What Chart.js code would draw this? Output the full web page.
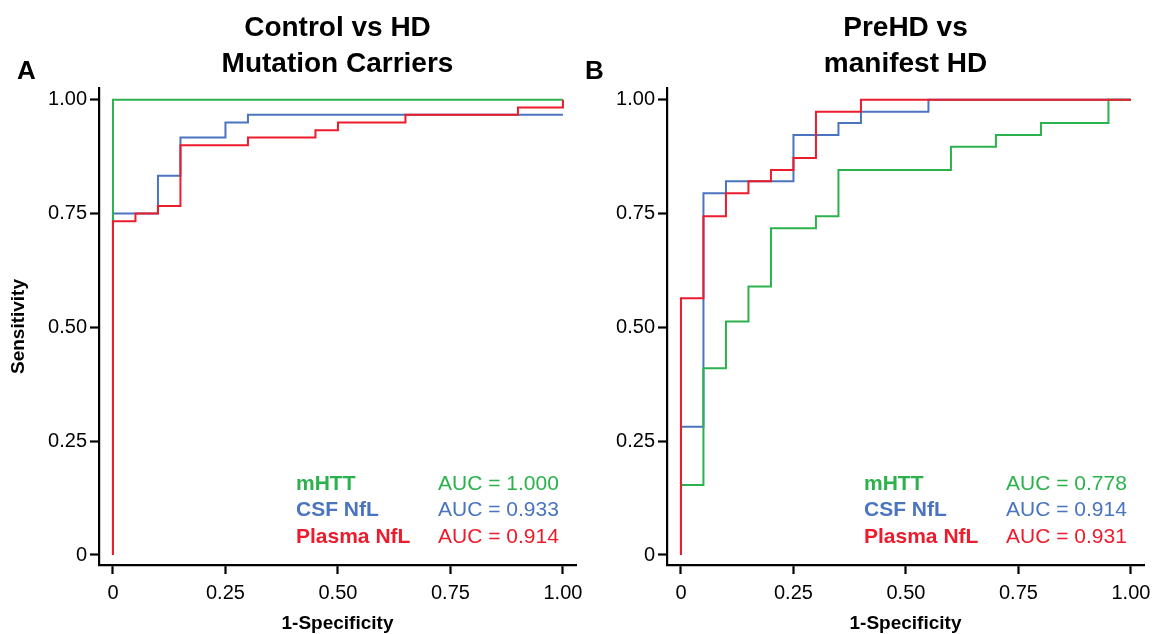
<!DOCTYPE html>
<html>
<head>
<meta charset="utf-8">
<script src="https://cdn.jsdelivr.net/npm/chart.js@4.4.1/dist/chart.umd.min.js"></script>
<style>
  html, body { margin: 0; padding: 0; background: #fff; }
  #wrap { position: relative; width: 1152px; height: 634px; overflow: hidden; }
  .panel { position: absolute; top: 0; width: 584px; height: 634px; }
</style>
</head>
<body>
<div id="wrap">
  <div class="panel" style="left:0"><canvas id="rocA" width="584" height="634"></canvas></div>
  <div class="panel" style="left:568px"><canvas id="rocB" width="584" height="634"></canvas></div>
</div>
<script>
const markers = ['mHTT', 'CSF NfL', 'Plasma NfL'];
const colors = ['#2bb24c', '#4a74bf', '#ec1c2c'];

const tickValues = [0, 0.25, 0.5, 0.75, 1];
const tickLabels = ['0', '0.25', '0.50', '0.75', '1.00'];

// A: control vs HD mutation carriers (ROC points, 1-specificity / sensitivity)
const fprA_mhtt = [0, 0, 1];
const tprA_mhtt = [0, 1, 1];
const fprA_csf = [0, 0, 0.10, 0.10, 0.15, 0.15, 0.25, 0.25, 0.30, 0.30, 1];
const tprA_csf = [0, 0.75, 0.75, 0.833, 0.833, 0.917, 0.917, 0.95, 0.95, 0.967, 0.967];
const fprA_plasma = [0, 0, 0.05, 0.05, 0.10, 0.10, 0.15, 0.15, 0.30, 0.30, 0.45, 0.45, 0.50, 0.50, 0.65, 0.65, 0.90, 0.90, 1, 1];
const tprA_plasma = [0, 0.733, 0.733, 0.75, 0.75, 0.767, 0.767, 0.90, 0.90, 0.917, 0.917, 0.933, 0.933, 0.95, 0.95, 0.967, 0.967, 0.983, 0.983, 1];
const aucA = ['1.000', '0.933', '0.914'];

// B: preHD vs manifest HD
const fprB_mhtt = [0, 0, 0.05, 0.05, 0.10, 0.10, 0.15, 0.15, 0.20, 0.20, 0.30, 0.30, 0.35, 0.35, 0.60, 0.60, 0.70, 0.70, 0.80, 0.80, 0.95, 0.95, 1];
const tprB_mhtt = [0, 0.154, 0.154, 0.410, 0.410, 0.513, 0.513, 0.590, 0.590, 0.718, 0.718, 0.744, 0.744, 0.846, 0.846, 0.897, 0.897, 0.923, 0.923, 0.949, 0.949, 1, 1];
const fprB_csf = [0, 0, 0.05, 0.05, 0.10, 0.10, 0.25, 0.25, 0.35, 0.35, 0.40, 0.40, 0.55, 0.55, 1];
const tprB_csf = [0, 0.282, 0.282, 0.795, 0.795, 0.821, 0.821, 0.923, 0.923, 0.949, 0.949, 0.974, 0.974, 1, 1];
const fprB_plasma = [0, 0, 0.05, 0.05, 0.10, 0.10, 0.15, 0.15, 0.20, 0.20, 0.25, 0.25, 0.30, 0.30, 0.40, 0.40, 1];
const tprB_plasma = [0, 0.564, 0.564, 0.744, 0.744, 0.795, 0.795, 0.821, 0.821, 0.846, 0.846, 0.872, 0.872, 0.974, 0.974, 1, 1];
const aucB = ['0.778', '0.914', '0.931'];

const FONT = '"Liberation Sans", Arial, Helvetica, sans-serif';
// plasma drawn on top, then mHTT, CSF underneath
const drawOrder = [1, 2, 0];

// titles, panel letter and the AUC legend
const panelText = {
    id: 'panelText',
    afterDraw(chart, args, opts) {
        const { ctx, chartArea } = chart;
        ctx.save();
        ctx.fillStyle = '#000';
        ctx.textBaseline = 'middle';
        ctx.textAlign = 'center';
        ctx.font = `bold 28px ${FONT}`;
        const cx = (chartArea.left + chartArea.right) / 2;
        opts.title.forEach((line, i) => ctx.fillText(line, cx, 28 + i * 36));

        ctx.textAlign = 'left';
        ctx.font = `bold 26px ${FONT}`;
        ctx.fillText(opts.letter, 17, 72);

        chart.data.datasets.forEach((ds, i) => {
            const y = chartArea.bottom - 81 + i * 26.5;
            ctx.fillStyle = ds.borderColor;
            ctx.font = `bold 21px ${FONT}`;
            ctx.fillText(ds.label, chartArea.left + 197, y);
            ctx.font = `21px ${FONT}`;
            ctx.fillText(`AUC = ${opts.auc[i]}`, chartArea.left + 339, y);
        });
        ctx.restore();
    }
};

function axis(pad, extra) {
    return Object.assign({
        type: 'linear',
        afterBuildTicks: s => { s.ticks = tickValues.map(v => ({ value: v })); },
        ticks: {
            callback: (v, i) => tickLabels[i],
            font: { family: FONT, size: 20 },
            color: '#000',
            padding: pad,
            autoSkip: false,
            maxRotation: 0
        },
        grid: { display: true, drawOnChartArea: false, drawTicks: true, tickLength: 9, tickWidth: 2.2, color: '#000' },
        border: { display: true, color: '#000', width: 2.2 }
    }, extra);
}

function makeChart(id, fprs, tprs, auc, title, letter, showYTitle) {
    const datasets = markers.map((name, i) => ({
        label: name,
        data: fprs[i].map((x, j) => ({ x: x, y: tprs[i][j] })),
        borderColor: colors[i],
        borderWidth: 2,
        pointRadius: 0,
        fill: false,
        tension: 0,
        showLine: true,
        order: drawOrder[i]
    }));

    return new Chart(document.getElementById(id), {
        type: 'scatter',
        data: { datasets },
        options: {
            responsive: false,
            animation: false,
            layout: { padding: { left: 0, right: 8, top: 88, bottom: 0 } },
            plugins: {
                legend: { display: false },
                tooltip: { enabled: false },
                panelText: { title, letter, auc }
            },
            scales: {
                x: axis(7, {
                    min: -0.031, max: 1.029,
                    title: {
                        display: true, text: '1-Specificity', color: '#000',
                        font: { family: FONT, size: 19, weight: 'bold' },
                        padding: { top: 0, bottom: -1 }
                    },
                    // end labels may overhang the plot edges
                    afterFit: s => { s.height = 69; s.paddingLeft = 0; s.paddingRight = 0; }
                }),
                y: axis(3, {
                    min: -0.022, max: 1.026,
                    title: {
                        display: showYTitle, text: 'Sensitivity', color: '#000',
                        font: { family: FONT, size: 19, weight: 'bold' },
                        padding: { top: 7, bottom: 0 }
                    },
                    afterFit: s => { s.width = 99; s.paddingTop = 0; s.paddingBottom = 0; }
                })
            }
        },
        plugins: [panelText]
    });
}

makeChart('rocA',
    [fprA_mhtt, fprA_csf, fprA_plasma],
    [tprA_mhtt, tprA_csf, tprA_plasma],
    aucA, ['Control vs HD', 'Mutation Carriers'], 'A', true);

makeChart('rocB',
    [fprB_mhtt, fprB_csf, fprB_plasma],
    [tprB_mhtt, tprB_csf, tprB_plasma],
    aucB, ['PreHD vs', 'manifest HD'], 'B', false);
</script>
</body>
</html>
